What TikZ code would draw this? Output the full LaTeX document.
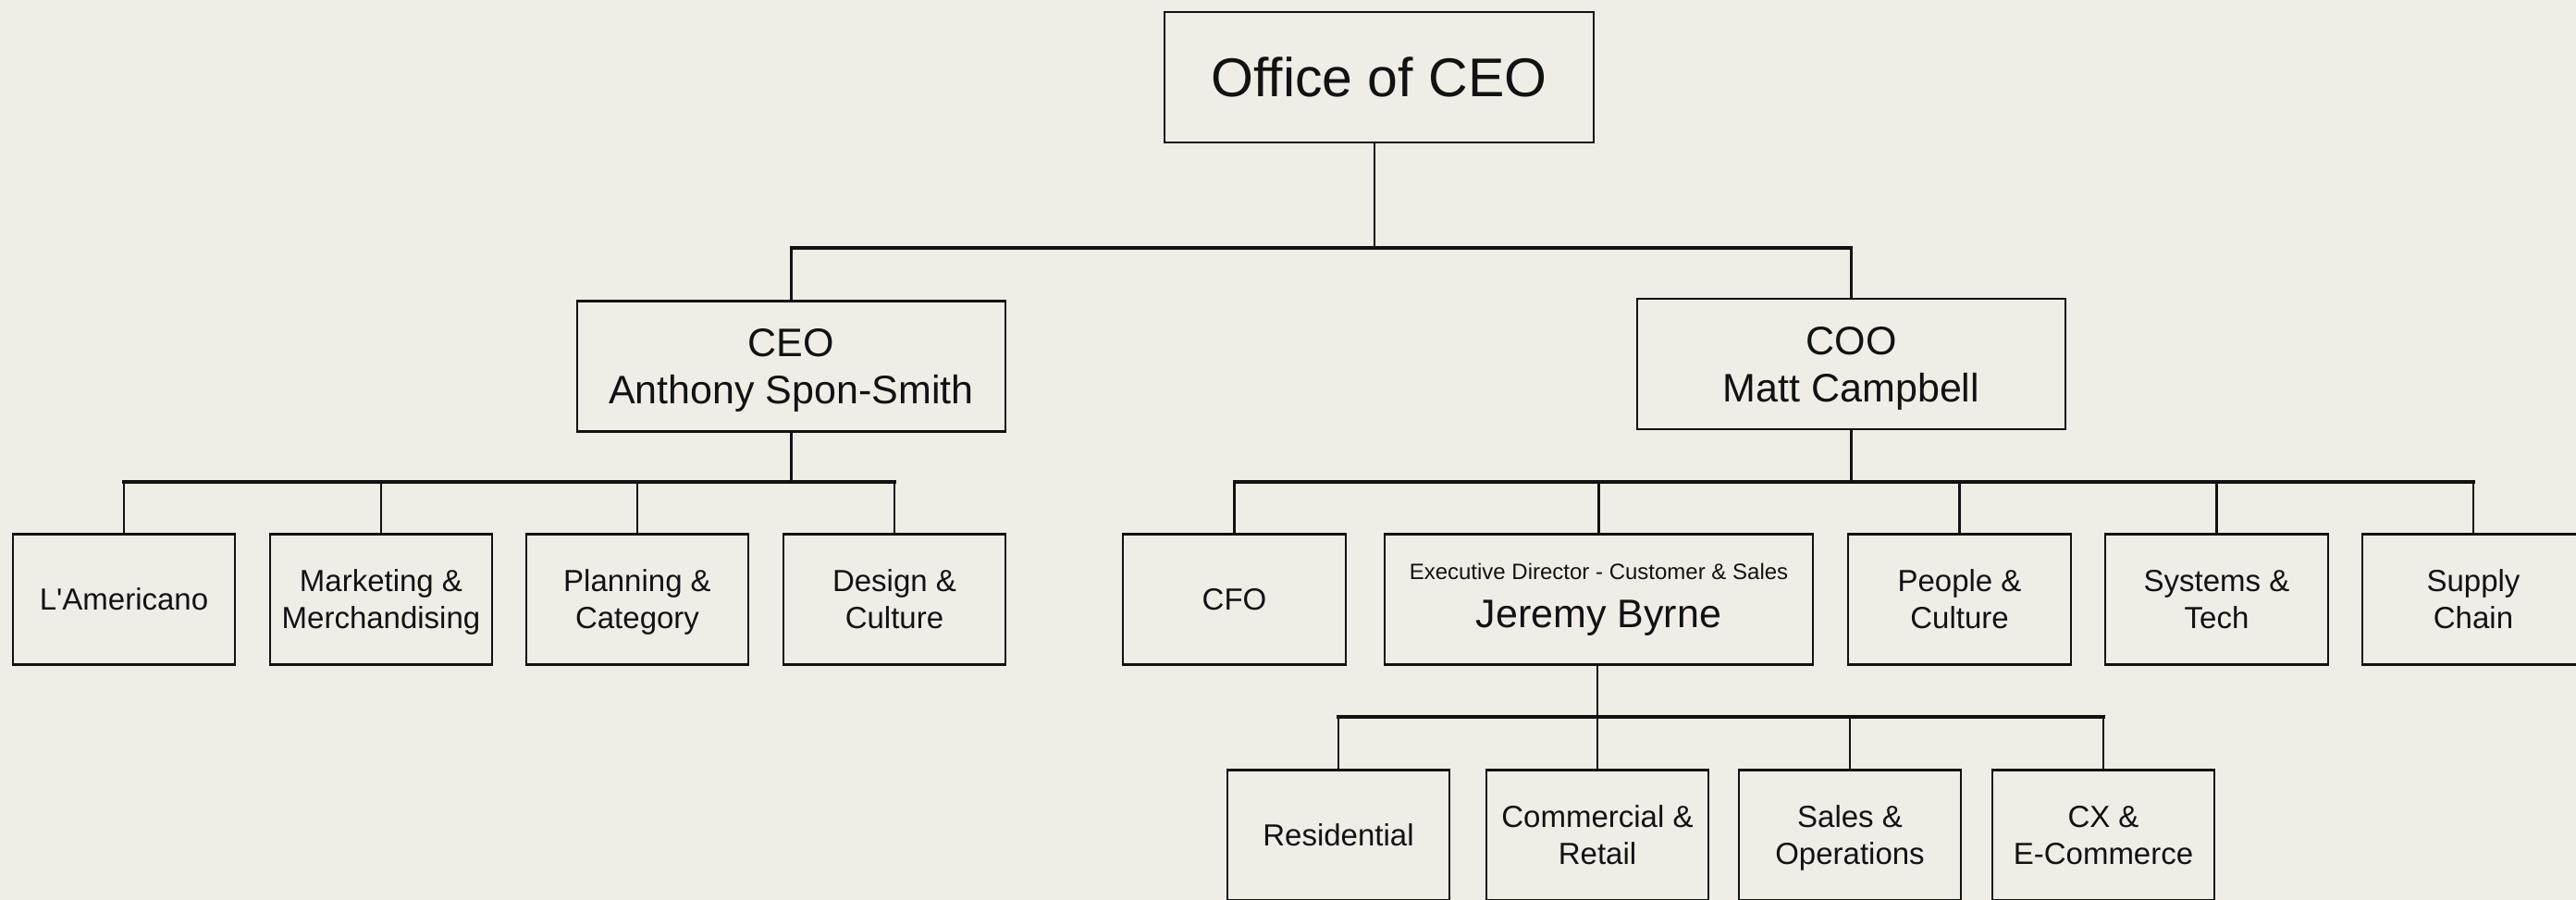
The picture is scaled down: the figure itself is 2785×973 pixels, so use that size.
\documentclass[tikz,border=0pt]{standalone}
\usepackage{fontspec}
\newfontfamily\orgfont{Liberation Sans}
\definecolor{paper}{RGB}{240,237,231}
\definecolor{ink}{RGB}{18,18,18}
\begin{document}
\begin{tikzpicture}[x=1pt,y=-1pt,
  box/.style={draw=ink, line width=2.4pt, inner sep=0pt, align=center,
              minimum height=141pt, text=ink, text depth=0pt},
  unit/.style={box, minimum width=240pt, text depth=-6pt,
               font=\orgfont\fontsize{33}{40}\selectfont},
  lead/.style={box, minimum width=463pt, text depth=-6pt,
               font=\orgfont\fontsize{43}{51}\selectfont},
  link/.style={draw=ink, line width=2.4pt},
  bus/.style={draw=ink, line width=3.4pt, line cap=rect}]
\useasboundingbox (0,0) rectangle (2785,973);
\fill[paper] (0,0) rectangle (2785,973);

% top of the chart
\node[box, minimum width=464pt, font=\orgfont\fontsize{59}{70}\selectfont]
  (office) at (1491,83.5) {Office of CEO};
\node[lead] (ceo) at (855.5,396) {CEO\\Anthony Spon-Smith};
\node[lead] (coo) at (2001.5,393.5) {COO\\Matt Campbell};

% CEO reports
\node[unit] (lam) at (134,648) {L'Americano};
\node[unit] (mkt) at (412,648) {Marketing \&\\Merchandising};
\node[unit] (pln) at (689,648) {Planning \&\\Category};
\node[unit] (dsg) at (967,648) {Design \&\\Culture};

% COO reports
\node[unit, minimum width=241pt] (cfo) at (1334.5,648) {CFO};
\node[lead, font=\orgfont\fontsize{43}{52}\selectfont, text height=60pt, text depth=0pt]
  (exec) at (1728.5,648)
  {{\fontsize{24}{28}\selectfont Executive Director - Customer \& Sales}\\Jeremy Byrne};
\node[unit, minimum width=241pt] (ppl) at (2118.5,648) {People \&\\Culture};
\node[unit, minimum width=241pt] (sys) at (2396.5,648) {Systems \&\\Tech};
\node[unit] (sup) at (2674,648) {Supply\\Chain};

% Customer & Sales teams
\node[unit] (res) at (1447,903) {Residential};
\node[unit] (com) at (1727,903) {Commercial \&\\Retail};
\node[unit] (sal) at (2000,903) {Sales \&\\Operations};
\node[unit] (cx)  at (2274,903) {CX \&\\E-Commerce};

% bus heights
\coordinate (topbus) at (1486,268);
\coordinate (ceobus) at (855,521);
\coordinate (coobus) at (2002,521);
\coordinate (edbus)  at (1727,775);

% office -> CEO / COO
\draw[link] (topbus |- office.south) -- (topbus);
\draw[bus] (ceo.north |- topbus) -- (coo.north |- topbus);
\draw[link] (ceo.north |- topbus) -- (ceo.north);
\draw[link] (coo.north |- topbus) -- (coo.north);

% CEO -> units
\draw[link] (ceo.south) -- (ceo.south |- ceobus);
\draw[bus] (lam.north |- ceobus) -- (dsg.north |- ceobus);
\foreach \n in {lam,mkt,pln,dsg}
  \draw[link] (\n.north |- ceobus) -- (\n.north);

% COO -> units
\draw[link] (coo.south) -- (coo.south |- coobus);
\draw[bus] (cfo.north |- coobus) -- (sup.north |- coobus);
\foreach \n in {cfo,exec,ppl,sys,sup}
  \draw[link] (\n.north |- coobus) -- (\n.north);

% Executive Director -> teams
\draw[link] (edbus |- exec.south) -- (edbus);
\draw[bus] (res.north |- edbus) -- (cx.north |- edbus);
\foreach \n in {res,com,sal,cx}
  \draw[link] (\n.north |- edbus) -- (\n.north);
\end{tikzpicture}
\end{document}
